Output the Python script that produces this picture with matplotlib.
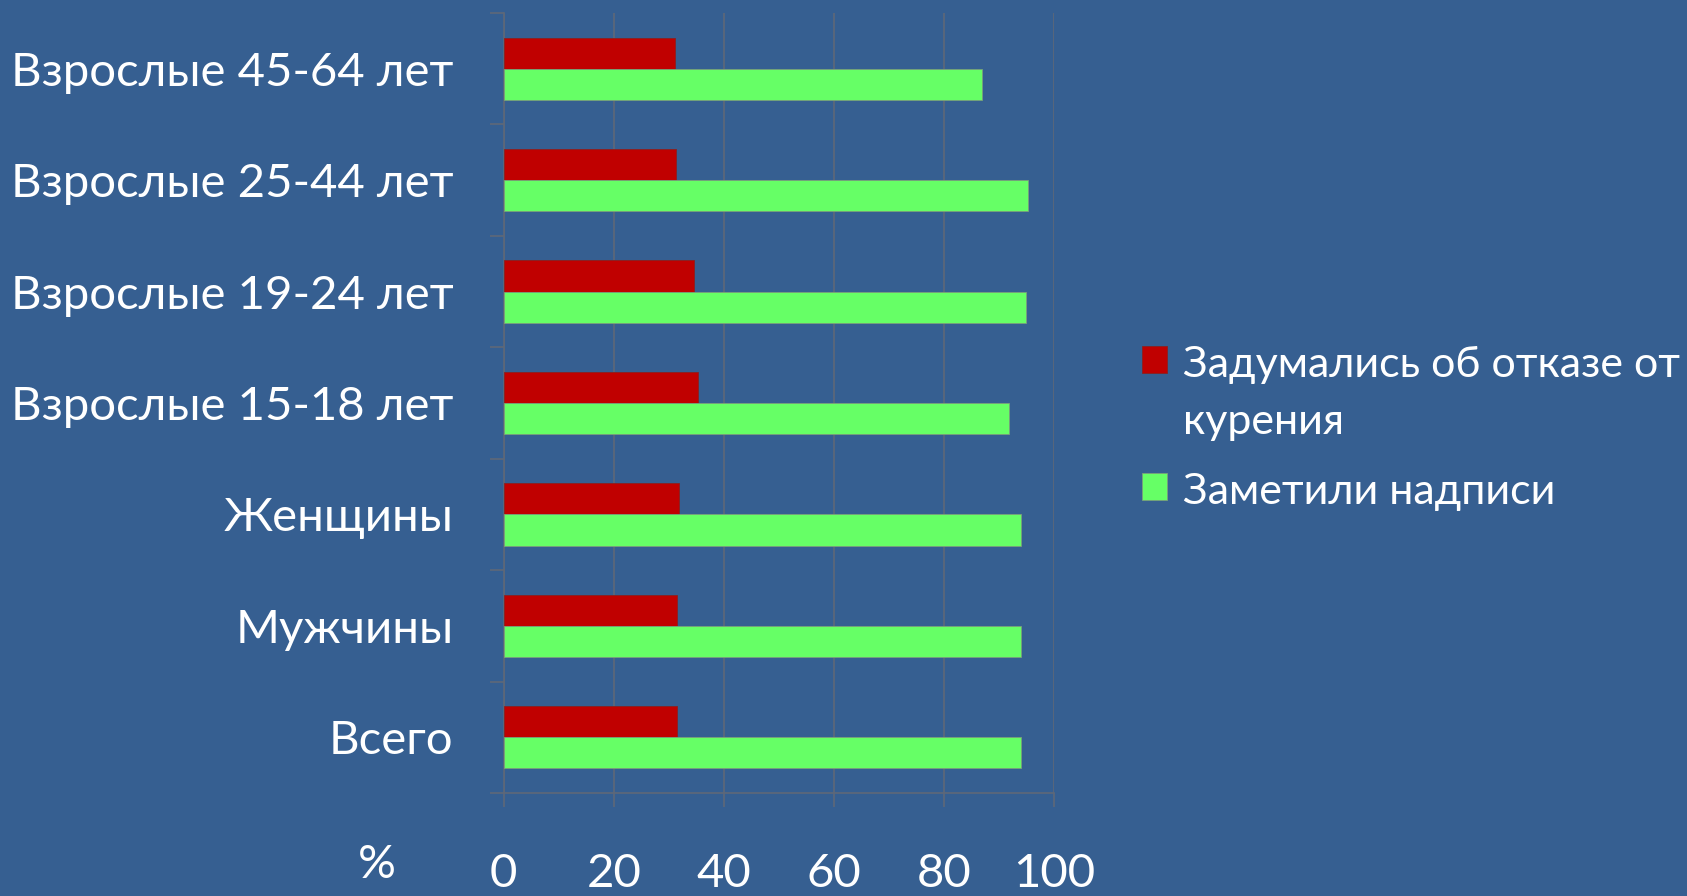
import numpy as np
import matplotlib.pyplot as plt
from matplotlib.ticker import FixedLocator

### DATA ###
categories = ['Всего', 'Мужчины', 'Женщины', 'Взрослые 15-18 лет',
              'Взрослые 19-24 лет', 'Взрослые 25-44 лет', 'Взрослые 45-64 лет']
thought_quit = [31.4, 31.4, 31.8, 35.3, 34.6, 31.3, 31.1]   # red
noticed = [94.0, 94.0, 94.0, 91.7, 94.8, 95.3, 86.8]        # green
x_ticks = [0, 20, 40, 60, 80, 100]
label_red = 'Задумались об отказе от\nкурения'
label_green = 'Заметили надписи'

### STYLE ###
bg = '#365F91'
grid_col = '#5E6878'
red = '#C00000'
green = '#66FF66'
fs = 34
leg_fs = 31

plt.rcParams['font.family'] = ['Lato', 'Open Sans', 'DejaVu Sans']

fig = plt.figure(figsize=(16.87, 8.96), dpi=100, facecolor=bg)
ax = fig.add_axes([0.2985, 0.115, 0.3265, 0.8705])
ax.set_facecolor(bg)

y = np.arange(len(categories))
h = 0.28
ax.barh(y + h / 2, thought_quit, height=h, color=red, edgecolor='#8a2020', linewidth=0.6,
        label=label_red, zorder=3)
ax.barh(y - h / 2, noticed, height=h, color=green, edgecolor='#7aa07a', linewidth=0.6,
        label=label_green, zorder=3)

ax.set_xlim(0, 100)
ax.set_ylim(-0.5, len(categories) - 0.5)
ax.set_xticks(x_ticks)
ax.set_xticklabels([str(v) for v in x_ticks])
ax.set_yticks(y)
ax.set_yticklabels(categories)
ax.yaxis.set_minor_locator(FixedLocator(np.arange(len(categories) + 1) - 0.5))

ax.grid(axis='x', color=grid_col, linewidth=1.2, zorder=0)
for s in ['top', 'right']:
    ax.spines[s].set_visible(False)
for s in ['left', 'bottom']:
    ax.spines[s].set_color(grid_col)
    ax.spines[s].set_linewidth(1.2)

ax.tick_params(axis='x', colors=grid_col, length=10, width=1.2, pad=33,
               labelcolor='white', labelsize=fs)
ax.tick_params(axis='y', which='major', length=0, pad=36, labelcolor='white', labelsize=fs)
ax.tick_params(axis='y', which='minor', length=10, width=1.2, colors=grid_col)

fig.text(0.212, 0.035, '%', color='white', fontsize=fs, ha='left', va='center')

handles, labels = ax.get_legend_handles_labels()
leg = fig.legend(handles, labels, loc='upper left', bbox_to_anchor=(0.664, 0.638),
                 frameon=False, fontsize=leg_fs, labelcolor='white',
                 handlelength=0.58, handleheight=0.58, handletextpad=0.38,
                 labelspacing=0.75, borderpad=0)
for t in leg.get_texts():
    t.set_linespacing(1.62)
# put the colour box next to the first line of a wrapped label
for col in leg._legend_handle_box.get_children():
    for row in col.get_children():
        row.align = 'top'

fig.savefig('out.png', dpi=100, facecolor=bg)
